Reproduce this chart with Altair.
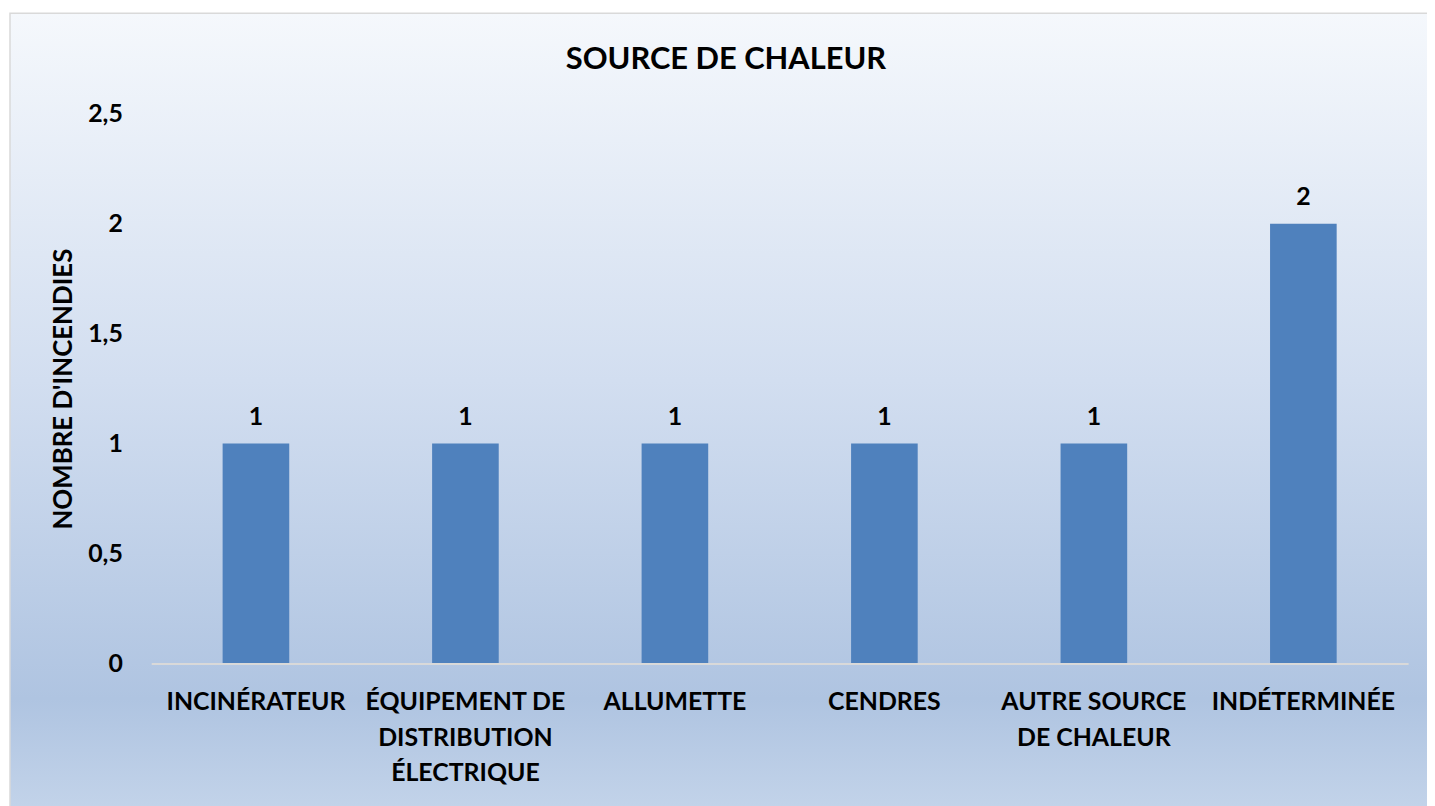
import altair as alt
import pandas as pd

categories = [
    "INCINÉRATEUR",
    "ÉQUIPEMENT DE|DISTRIBUTION|ÉLECTRIQUE",
    "ALLUMETTE",
    "CENDRES",
    "AUTRE SOURCE|DE CHALEUR",
    "INDÉTERMINÉE",
]
values = [1, 1, 1, 1, 1, 2]
y_ticks = [0, 0.5, 1, 1.5, 2, 2.5]
title_text = "SOURCE DE CHALEUR"
y_title = "NOMBRE D'INCENDIES"

FONT = "Lato"
df = pd.DataFrame({"cat": categories, "val": values})

W, H = 1264, 553

bg = alt.Chart(alt.Data(values=[{"a": 1}])).mark_rect(
    fill=alt.Gradient(
        gradient="linear",
        x1=0, x2=0, y1=0, y2=1,
        stops=[
            alt.GradientStop(offset=0, color="#f5f8fc"),
            alt.GradientStop(offset=0.45, color="#d2def0"),
            alt.GradientStop(offset=0.84, color="#afc4e1"),
            alt.GradientStop(offset=1, color="#c6d6eb"),
        ],
    ),
    stroke="#d9d9d9",
    strokeWidth=1.5,
).encode(
    x=alt.value(-142), x2=alt.value(1320),
    y=alt.value(-101), y2=alt.value(720),
)

title = alt.Chart(alt.Data(values=[{"t": title_text}])).mark_text(
    font=FONT, fontSize=31, fontWeight="bold", color="#000000",
    align="center", baseline="alphabetic",
).encode(
    text="t:N",
    x=alt.value(578),
    y=alt.value(-45),
)

x_enc = alt.X(
    "cat:N",
    sort=categories,
    scale=alt.Scale(paddingInner=0.682, paddingOuter=0.341),
    axis=alt.Axis(
        title=None,
        labelAngle=0,
        labelExpr="split(datum.label, '|')",
        labelFont=FONT,
        labelFontSize=25,
        labelFontWeight="bold",
        labelColor="#000000",
        labelPadding=26,
        labelBaseline="top",
        labelLineHeight=36,
        labelLimit=400,
        ticks=False,
        domainColor="#d9d9d9",
        domainWidth=2,
        grid=False,
        zindex=1,
    ),
)

y_enc = alt.Y(
    "val:Q",
    scale=alt.Scale(domain=[0, 2.5], nice=False),
    axis=alt.Axis(
        title=y_title,
        values=y_ticks,
        labelExpr="replace(toString(datum.value), '.', ',')",
        labelFont=FONT,
        labelFontSize=25,
        labelFontWeight="bold",
        labelColor="#000000",
        labelPadding=29,
        ticks=False,
        domain=False,
        grid=False,
        titleFont=FONT,
        titleFontSize=26,
        titleFontWeight="bold",
        titleColor="#000000",
        titlePadding=11,
        zindex=1,
    ),
)

bars = alt.Chart(df).mark_bar(color="#4f81bd").encode(x=x_enc, y=y_enc)

labels = alt.Chart(df).mark_text(
    dy=-19, baseline="alphabetic", font=FONT, fontSize=25, fontWeight="bold", color="#000000"
).encode(
    x=alt.X("cat:N", sort=categories),
    y=alt.Y("val:Q"),
    text=alt.Text("val:Q"),
)

chart = alt.layer(bg, title, bars, labels).properties(
    width=W,
    height=H,
    autosize=alt.AutoSizeParams(type="none"),
    padding={"left": 144, "top": 104, "right": 19, "bottom": 141},
    background="white",
).configure_view(stroke=None)

chart.save("out.html", embed_options={"renderer": "svg", "actions": False})
